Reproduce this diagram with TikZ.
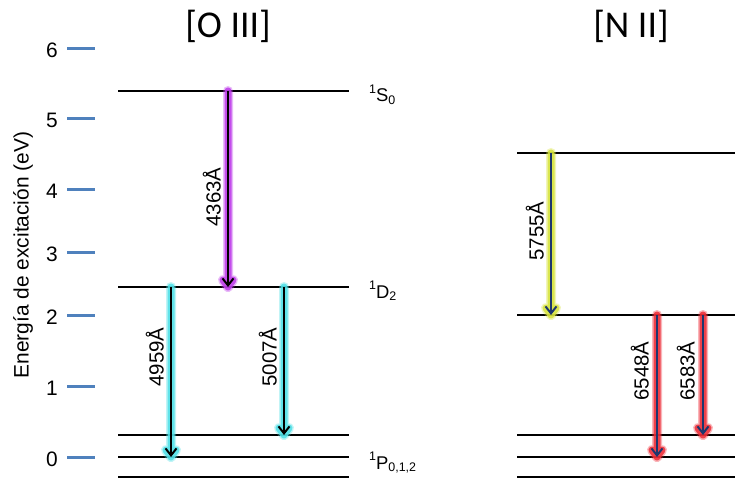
\documentclass[tikz,border=0pt]{standalone}
\usepackage{fontspec}
\setmainfont{Liberation Sans}
\newfontfamily\titlefont{Carlito}
\usetikzlibrary{arrows.meta}
\definecolor{tickblue}{RGB}{79,129,189}
\definecolor{glowmag}{RGB}{190,60,235}
\definecolor{glowcyan}{RGB}{80,225,232}
\definecolor{glowyel}{RGB}{215,228,60}
\definecolor{glowred}{RGB}{238,45,55}
\definecolor{navyarrow}{RGB}{30,55,110}
\newcommand{\lvllab}[3]{{\fontsize{12.5}{12.5}\selectfont\raisebox{8.5pt}{#1}}#2{\fontsize{12.5}{12.5}\selectfont\raisebox{-2.5pt}{#3}}}
\newcommand{\glowarr}[4]{%
  \draw[line width=10bp, draw=#1, opacity=.35, line cap=round, line join=round]
    (#2) -- (#3) -- ++(-5,-7) (#3) -- ++(5,-7);
  \draw[line width=7bp, draw=#1, opacity=.85, line cap=round, line join=round]
    (#2) -- (#3) -- ++(-5,-7) (#3) -- ++(5,-7);
  \draw[line width=2bp, draw=#4, -{Straight Barb[length=7bp,width=11bp]}] (#2) -- (#3);
}
\begin{document}
\begin{tikzpicture}[x=1bp,y=-1bp,
  levelline/.style={line width=2bp, black},
  tickline/.style={line width=3bp, tickblue},
  numlab/.style={anchor=east, inner sep=0pt, font=\fontsize{21}{21}\selectfont},
  wavelab/.style={rotate=90, anchor=base, inner sep=0pt, font=\fontsize{20.5}{20.5}\selectfont},
  statelab/.style={anchor=base west, inner sep=0pt, font=\fontsize{18.5}{18.5}\selectfont},
  titlelab/.style={inner sep=0pt, font=\titlefont\fontsize{38}{38}\selectfont}]
\useasboundingbox (0,0) rectangle (735,487);
\fill[white] (0,0) rectangle (735,487);

% axis
\foreach \v/\y in {6/48.5,5/118.5,4/189.5,3/252.5,2/315.5,1/386.5,0/457.5} {
  \node[numlab] (num\v) at (58,\y+1.5) {\v};
  \coordinate (tka\v) at (67,\y);
  \coordinate (tkb\v) at (95,\y);
  \draw[tickline] (tka\v) -- (tkb\v);
}
\node[rotate=90, inner sep=0pt, font=\fontsize{21}{21}\selectfont] (ylab) at (23,255) {Energía de excitación (eV)};

% titles
\node[titlelab] (tO) at (228,26) {[O III]};
\node[titlelab] (tN) at (631,26) {[N II]};

% O III levels
\foreach \n/\y in {S/91,D/287,Pa/435,Pb/457,Pc/477} {
  \coordinate (oL\n) at (118,\y);
  \coordinate (oR\n) at (349,\y);
  \draw[levelline] (oL\n) -- (oR\n);
}
\node[statelab] (labS) at (369,102) {\lvllab{1}{S}{0}};
\node[statelab] (labD) at (369,298) {\lvllab{1}{D}{2}};
\node[statelab] (labP) at (369,469) {\lvllab{1}{P}{0,1,2}};

% N II levels
\foreach \n/\y in {A/153,B/315,Ca/435,Cb/457,Cc/477} {
  \coordinate (nL\n) at (517,\y);
  \coordinate (nR\n) at (735,\y);
  \draw[levelline] (nL\n) -- (nR\n);
}

% O III transitions
\coordinate (a1s) at (228,91);    \coordinate (a1e) at (228,287);
\coordinate (a2s) at (171,287);   \coordinate (a2e) at (171,457);
\coordinate (a3s) at (284,287);   \coordinate (a3e) at (284,435);
\glowarr{glowmag}{a1s}{a1e}{black}
\glowarr{glowcyan}{a2s}{a2e}{black}
\glowarr{glowcyan}{a3s}{a3e}{black}
\node[wavelab] (w4363) at (220.5,197) {4363Å};
\node[wavelab] (w4959) at (163.5,357) {4959Å};
\node[wavelab] (w5007) at (276.5,357) {5007Å};

% N II transitions
\coordinate (b1s) at (551,153);   \coordinate (b1e) at (551,315);
\coordinate (b2s) at (657,315);   \coordinate (b2e) at (657,457);
\coordinate (b3s) at (703,315);   \coordinate (b3e) at (703,435);
\glowarr{glowyel}{b1s}{b1e}{navyarrow}
\glowarr{glowred}{b2s}{b2e}{navyarrow}
\glowarr{glowred}{b3s}{b3e}{navyarrow}
\node[wavelab] (w5755) at (543.5,231) {5755Å};
\node[wavelab] (w6548) at (648.5,371) {6548Å};
\node[wavelab] (w6583) at (694.5,371) {6583Å};
\end{tikzpicture}
\end{document}
